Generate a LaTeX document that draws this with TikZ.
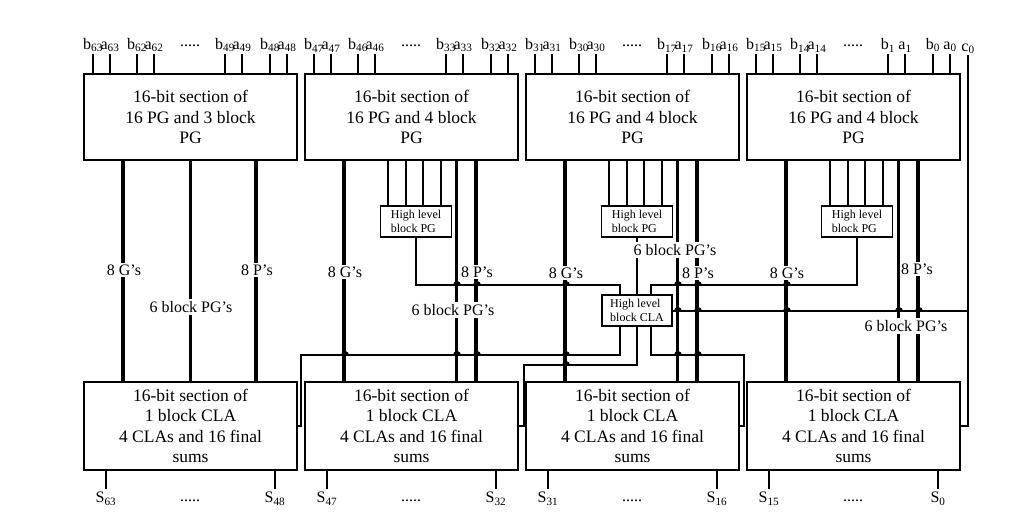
\documentclass[tikz,border=0pt]{standalone}
\usepackage{fontspec}
\setmainfont{Liberation Serif}
\usetikzlibrary{calc}

\newcommand{\boxfont}{\fontsize{17.5}{20.5}\selectfont}
\newcommand{\busfont}{\fontsize{16}{18}\selectfont}
\newcommand{\hlfont}{\fontsize{12}{14.5}\selectfont}

\tikzset{
  section/.style={draw,line width=2pt,minimum width=213pt,minimum height=86pt,align=center,font=\boxfont,inner sep=0pt},
  hlbox/.style={draw,line width=1.6pt,minimum width=71pt,minimum height=31pt,align=left,font=\hlfont,inner sep=1pt},
  bus/.style={line width=4.5pt},
  pgbus/.style={line width=3pt},
  feed/.style={line width=2.5pt},
  wire/.style={line width=2pt},
  buslabel/.style={fill=white,inner xsep=1pt,inner ysep=2pt,font=\busfont},
  pinlabel/.style={inner sep=1pt,font=\busfont},
}

\begin{document}
\begin{tikzpicture}[x=1pt,y=-1pt]
  \useasboundingbox (0,0) rectangle (1026,523);

  % PG sections (top row)
  \node[section] (top1) at (190.5,117) {16-bit section of\\16 PG and 3 block\\PG};
  \node[section] (top2) at (411.5,117) {16-bit section of\\16 PG and 4 block\\PG};
  \node[section] (top3) at (632.5,117) {16-bit section of\\16 PG and 4 block\\PG};
  \node[section] (top4) at (853.5,117) {16-bit section of\\16 PG and 4 block\\PG};

  % CLA sections (bottom row)
  \foreach \n/\x in {1/190.5,2/411.5,3/632.5,4/853.5}
    \node[section,minimum height=88pt] (bot\n) at (\x,426) {16-bit section of\\1 block CLA\\4 CLAs and 16 final\\sums};

  % high level blocks
  \node[hlbox] (hpg2) at (416,221.5) {High level\\block PG};
  \node[hlbox] (hpg3) at (637,221.5) {High level\\block PG};
  \node[hlbox] (hpg4) at (857,221.5) {High level\\block PG};
  \node[hlbox,minimum width=70pt] (hcla) at (637,310.5) {High level\\block CLA};

  % operand inputs
  \foreach \n/\hi/\lo in {1/63/48,2/47/32,3/31/16,4/15/0} {
    \pgfmathtruncatemacro\hii{\hi-1}
    \pgfmathtruncatemacro\loo{\lo+1}
    \foreach \dx/\l/\k in {10/b/\hi,27/a/\hi,54/b/\hii,71/a/\hii,142/b/\loo,159/a/\loo,187/b/\lo,204/a/\lo}
      \draw[wire] ([xshift=\dx pt]top\n.north west) -- ++(0,-19)
        node[pinlabel,anchor=south] (in-\l\k) {\l\textsubscript{\k}};
    \node[font=\busfont,anchor=base] (dots-t\n) at ($(top\n.north west)+(107,-27)$) {.....};
  }
  \coordinate (c0) at (968,55);
  \node[pinlabel,anchor=south] (in-c0) at (c0) {c\textsubscript{0}};

  % sum outputs
  \foreach \n/\hi/\lo in {1/63/48,2/47/32,3/31/16,4/15/0} {
    \draw[wire] ([xshift=23pt]bot\n.south west) -- ++(0,18)
      node[pinlabel,anchor=north,inner sep=2pt] (s\hi) {S\textsubscript{\hi}};
    \draw[wire] ([xshift=-23pt]bot\n.south east) -- ++(0,18)
      node[pinlabel,anchor=north,inner sep=2pt] (s\lo) {S\textsubscript{\lo}};
    \node[font=\busfont,anchor=base] (dots-b\n) at ($(bot\n.south west)+(107,30)$) {.....};
  }

  % G, P and block PG buses
  \foreach \n in {1,...,4}
    \draw[bus] ([xshift=40pt]top\n.south west) -- ([xshift=40pt]bot\n.north west);
  \draw[pgbus] ([xshift=107pt]top1.south west) -- ([xshift=107pt]bot1.north west);
  \draw[bus] ([xshift=173pt]top1.south west) -- ([xshift=173pt]bot1.north west);
  \foreach \n in {2,3,4} {
    \draw[pgbus] ([xshift=152pt]top\n.south west) -- ([xshift=152pt]bot\n.north west);
    \draw[bus] ([xshift=172pt]top\n.south west) -- ([xshift=172pt]bot\n.north west);
    \foreach \dx in {84,102,119,137}
      \draw[feed] ([xshift=\dx pt]top\n.south west) -- ([xshift=\dx pt]top\n.south west |- hpg\n.north);
  }

  % wiring round the high level CLA
  \coordinate (rowP) at (0,285);
  \coordinate (rowA) at (0,355);
  \coordinate (rowB) at (0,365);
  \coordinate (cin1) at ([xshift=-17pt]hcla.north);
  \coordinate (cin3) at ([xshift=14pt]hcla.north);
  \coordinate (cout1) at ([xshift=-17pt]hcla.south);
  \coordinate (cout3) at ([xshift=14pt]hcla.south);
  \coordinate (c48) at ([xshift=3pt]bot1.east);
  \coordinate (c32) at ([xshift=5pt]bot2.east);
  \coordinate (c16) at ([xshift=4pt]bot3.east);

  \draw[feed] (hpg2.south) |- (cin1 |- rowP) -- (cin1);
  \draw[feed] (hpg3.south) -- (hcla.north);
  \draw[feed] (hpg4.south) |- (cin3 |- rowP) -- (cin3);
  \draw[wire] (c0) |- (bot4.east);
  \draw[wire] (hcla.east) -- (hcla.east -| c0);
  \draw[wire] (cout1) |- (c48 |- rowA) |- (bot1.east);
  \draw[wire] (hcla.south) |- (c32 |- rowB) |- (bot2.east);
  \draw[wire] (cout3) |- (c16 |- rowA) |- (bot3.east);

  % hops where wires cross buses
  \foreach \x/\y in {457/285,477/285,566/285,678/285,698/285,787/285,
                     678/311,698/311,787/311,899/311,919/311,
                     345/355,457/355,477/355,566/355,678/355,698/355,566/365}
    \fill (\x,\y) ++(-4pt,0) arc[start angle=180,end angle=0,radius=4pt] -- cycle;

  % bus labels
  \node[buslabel] (g1) at (124,270) {8 G's};
  \node[buslabel] (pg1) at (191,307) {6 block PG's};
  \node[buslabel] (p1) at (257,270) {8 P's};
  \node[buslabel] (g2) at (345,272) {8 G's};
  \node[buslabel] (p2) at (477,272) {8 P's};
  \node[buslabel] (pg2) at (453,310) {6 block PG's};
  \node[buslabel] (g3) at (566,273) {8 G's};
  \node[buslabel] (pg3) at (675,250) {6 block PG's};
  \node[buslabel] (p3) at (698,273) {8 P's};
  \node[buslabel] (g4) at (787,273) {8 G's};
  \node[buslabel] (p4) at (917,269) {8 P's};
  \node[buslabel] (pg4) at (906,326) {6 block PG's};
\end{tikzpicture}
\end{document}
